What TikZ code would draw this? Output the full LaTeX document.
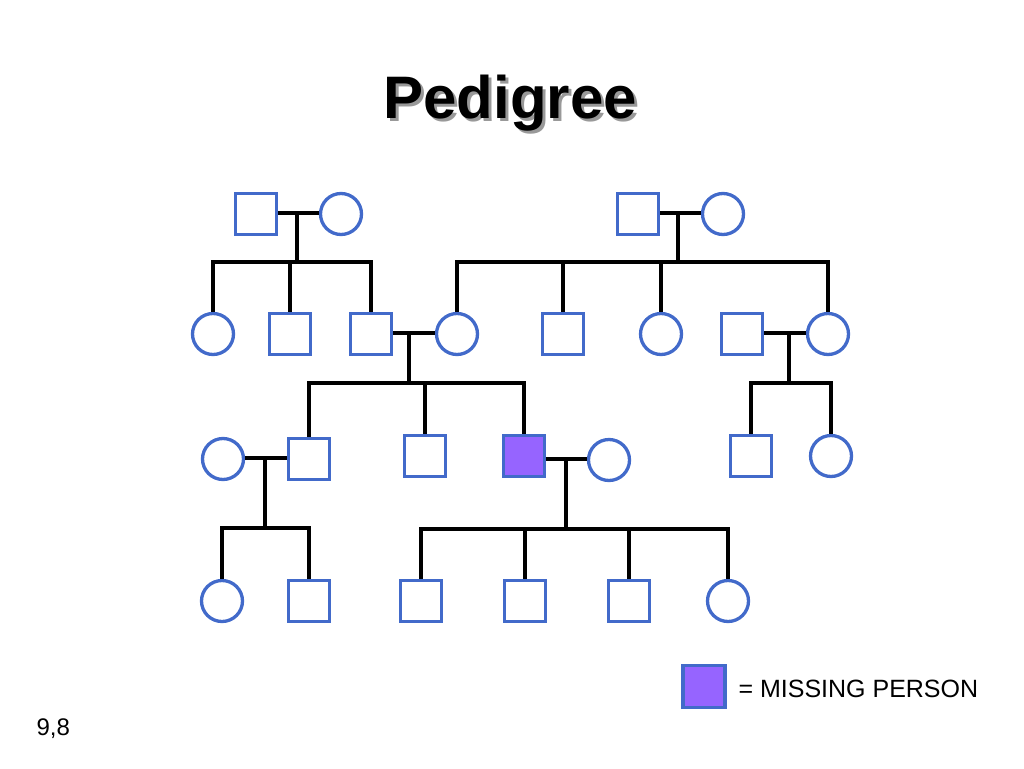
\documentclass[tikz,border=0pt]{standalone}
\usepackage{fontspec}
\setmainfont{Liberation Sans}
\begin{document}
\begin{tikzpicture}[x=1pt,y=-1pt,
  person/.style={draw=pblue,line width=3.3pt,fill=white,inner sep=0pt,minimum size=41pt},
  male/.style={person,rectangle},
  female/.style={person,circle},
  missing/.style={male,fill=pmiss},
  link/.style={draw=black,line width=3.3pt}]
\definecolor{pblue}{RGB}{66,106,202}
\definecolor{pmiss}{RGB}{150,100,255}
\useasboundingbox (0,0) rectangle (1024,768);
% title with shadow
\node[anchor=base,font=\fontsize{60}{70}\selectfont\bfseries,text=black!40] (titleshadow) at (513,121) {Pedigree};
\node[anchor=base,font=\fontsize{60}{70}\selectfont\bfseries] (title) at (510,118) {Pedigree};
% coordinates for marriage lines and sibship bars
\coordinate (ma) at (297,213);
\coordinate (sa) at (297,262);
\coordinate (mb) at (678,213);
\coordinate (sb) at (678,262);
\coordinate (mc) at (409,333);
\coordinate (sc) at (409,383);
\coordinate (md) at (789,333);
\coordinate (sd) at (789,383);
\coordinate (me) at (265,458);
\coordinate (se) at (265,528);
\coordinate (mf) at (566,459);
\coordinate (sf) at (566,529);
% generation 1
\node[male] (a1) at (256,214) {};
\node[female] (a2) at (341,214) {};
\node[male] (b1) at (638,214) {};
\node[female] (b2) at (723,214) {};
% generation 2
\node[female] (c1) at (213,334) {};
\node[male] (c2) at (290,334) {};
\node[male] (c3) at (371,334) {};
\node[female] (c4) at (457,334) {};
\node[male] (c5) at (563,334) {};
\node[female] (c6) at (661,334) {};
\node[male] (c7) at (742,334) {};
\node[female] (c8) at (828,334) {};
% generation 3
\node[female] (d1) at (223,459) {};
\node[male] (d2) at (309,459) {};
\node[male] (d3) at (425,456) {};
\node[missing] (d4) at (524,456) {};
\node[female] (d5) at (609,460) {};
\node[male] (d6) at (751,456) {};
\node[female] (d7) at (831,456) {};
% generation 4
\node[female] (e1) at (222,601) {};
\node[male] (e2) at (309,601) {};
\node[male] (e3) at (421,601) {};
\node[male] (e4) at (525,601) {};
\node[male] (e5) at (629,601) {};
\node[female] (e6) at (728,601) {};
% family A
\draw[link] (a1.east |- ma) -- (a2.west |- ma);
\draw[link] (ma) -- (sa);
\draw[link] (c1.north) |- (sa) -| (c3.north);
\draw[link] (c2.north) -- (c2.north |- sa);
% family B
\draw[link] (b1.east |- mb) -- (b2.west |- mb);
\draw[link] (mb) -- (sb);
\draw[link] (c4.north) |- (sb) -| (c8.north);
\draw[link] (c5.north) -- (c5.north |- sb);
\draw[link] (c6.north) -- (c6.north |- sb);
% family C (c3 x c4)
\draw[link] (c3.east |- mc) -- (c4.west |- mc);
\draw[link] (mc) -- (sc);
\draw[link] (d2.north) |- (sc) -| (d4.north);
\draw[link] (d3.north) -- (d3.north |- sc);
% family D (c7 x c8)
\draw[link] (c7.east |- md) -- (c8.west |- md);
\draw[link] (md) -- (sd);
\draw[link] (d6.north) |- (sd) -| (d7.north);
% family E (d1 x d2)
\draw[link] (d1.east |- me) -- (d2.west |- me);
\draw[link] (me) -- (se);
\draw[link] (e1.north) |- (se) -| (e2.north);
% family F (d4 x d5)
\draw[link] (d4.east |- mf) -- (d5.west |- mf);
\draw[link] (mf) -- (sf);
\draw[link] (e3.north) |- (sf) -| (e6.north);
\draw[link] (e4.north) -- (e4.north |- sf);
\draw[link] (e5.north) -- (e5.north |- sf);
% legend
\node[missing,minimum size=42pt] (leg) at (704,686.5) {};
\node[anchor=base west,font=\fontsize{25}{30}\selectfont] (legtext) at (735,697) {= MISSING PERSON};
\node[anchor=base west,font=\fontsize{24}{28}\selectfont] (pagenum) at (33,735) {9,8};
\end{tikzpicture}
\end{document}
